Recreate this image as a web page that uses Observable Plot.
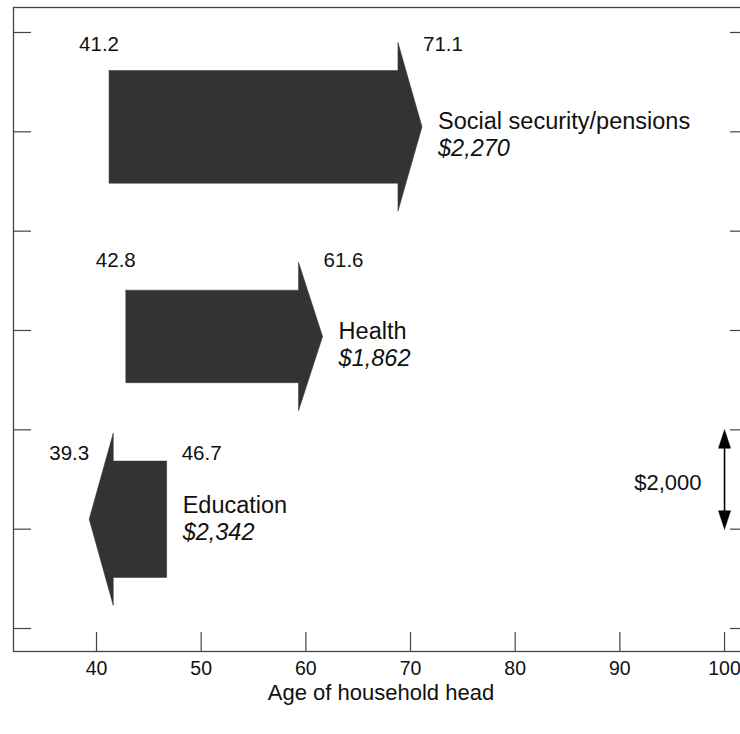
<!DOCTYPE html>
<html><head><meta charset="utf-8">
<script src="https://cdn.jsdelivr.net/npm/d3@7"></script>
<script src="https://cdn.jsdelivr.net/npm/@observablehq/plot@0.6"></script>
<style>
html,body{margin:0;padding:0;background:#fff;overflow:hidden;}
#chart svg{max-width:none !important;display:block;}
</style></head><body><div id="chart"></div>
<script>
// ---- data ----
const categories = ["Social security/pensions", "Health", "Education"];
const startAge = [41.2, 42.8, 46.7];
const endAge = [71.1, 61.6, 39.3];
const amount = [2270, 1862, 2342];
const amountLabels = ["$2,270", "$1,862", "$2,342"];
const xTicks = [40, 50, 60, 70, 80, 90, 100];
const yTicks = [0, 2000, 4000, 6000, 8000, 10000, 12000];
const scaleBarAmount = 2000;
const scaleBarLabel = "$2,000";
const xTitle = "Age of household head";

// ---- layout (not data) ----
const W = 750, H = 734, mL = 13, mR = 2, mT = 7, mB = 83;
const plotW = W - mL - mR, plotH = H - mT - mB;
const rowCenter = [10100, 5880, 2200];     // vertical placement of each arrow (y units)
const ageLabelDy = [-82, -76, -66];
const nameDy = [-5, -5, -14];
const valueDy = [22, 22, 13];
const HEAD_LEN = 2.3;      // years
const HEAD_EXTRA = 564;    // y units beyond body
const barAge = 100, barBase = 2000;
const BAR_HEAD = 370, BAR_HALF = 0.58;
const FONT = "'Liberation Sans', Arial, Helvetica, sans-serif";
const DARK = "#333333";

const arrows = categories.flatMap((c, i) => {
  const s = startAge[i], e = endAge[i], dir = Math.sign(e - s);
  const cy = rowCenter[i], h = amount[i] / 2, b = e - dir * HEAD_LEN;
  return [[s, cy + h], [b, cy + h], [b, cy + h + HEAD_EXTRA], [e, cy],
          [b, cy - h - HEAD_EXTRA], [b, cy - h], [s, cy - h], [s, cy + h]]
    .map(([x, y]) => ({cat: c, x, y}));
});

const barTop = barBase + scaleBarAmount, barBot = barBase;
const barHeads = [
  [[barAge, barTop], [barAge - BAR_HALF, barTop - BAR_HEAD], [barAge + BAR_HALF, barTop - BAR_HEAD], [barAge, barTop]].map(([x, y]) => ({id: "top", x, y})),
  [[barAge, barBot], [barAge - BAR_HALF, barBot + BAR_HEAD], [barAge + BAR_HALF, barBot + BAR_HEAD], [barAge, barBot]].map(([x, y]) => ({id: "bot", x, y}))
].flat();

const ageMarks = categories.flatMap((c, i) => {
  const dir = Math.sign(endAge[i] - startAge[i]);
  const y = rowCenter[i];
  return [
    {x: startAge[i], y, text: startAge[i].toFixed(1), anchor: dir > 0 ? "middle" : "start", dx: dir > 0 ? -10 : 15, dy: ageLabelDy[i]},
    {x: endAge[i], y, text: endAge[i].toFixed(1), anchor: dir > 0 ? "start" : "end", dx: dir > 0 ? 1 : 0, dy: ageLabelDy[i]}
  ];
}).map(d => Plot.text([d], {x: "x", y: "y", text: "text", textAnchor: d.anchor, dx: d.dx, dy: d.dy, fontSize: 20.5, fill: "#111"}));

const nameMarks = categories.flatMap((c, i) => {
  const x = Math.max(startAge[i], endAge[i]);
  return [
    Plot.text([{x, y: rowCenter[i], t: c}], {x: "x", y: "y", text: "t", textAnchor: "start", dx: 16, dy: nameDy[i], fontSize: 23.5, fill: "#111"}),
    Plot.text([{x, y: rowCenter[i], t: amountLabels[i]}], {x: "x", y: "y", text: "t", textAnchor: "start", dx: 16, dy: valueDy[i], fontSize: 23.5, fontStyle: "italic", fill: "#111"})
  ];
});

const chart = Plot.plot({
  width: W, height: H,
  marginLeft: mL, marginRight: mR, marginTop: mT, marginBottom: mB,
  style: {fontFamily: FONT, fontSize: "19.5px", color: "#111", background: "#fff", maxWidth: "none"},
  x: {domain: [32.07, 102.29], ticks: xTicks, tickSize: 0, tickPadding: 10, label: null},
  y: {domain: [-463, 12503], axis: null},
  marks: [
    Plot.line(arrows, {x: "x", y: "y", z: "cat", fill: DARK, stroke: DARK, strokeWidth: 0.5, curve: "linear"}),
    Plot.ruleX([barAge], {y1: barBot + BAR_HEAD * 0.8, y2: barTop - BAR_HEAD * 0.8, stroke: "#000", strokeWidth: 1.6}),
    Plot.line(barHeads, {x: "x", y: "y", z: "id", fill: "#000", stroke: "#000", strokeWidth: 0.5}),
    Plot.text([{x: barAge, y: barBase + scaleBarAmount / 2, t: scaleBarLabel}], {x: "x", y: "y", text: "t", textAnchor: "end", dx: -23, dy: 3, fontSize: 22, fill: "#111"}),
    ...ageMarks,
    ...nameMarks,
    Plot.tickX(xTicks, {x: d => d, insetTop: plotH - 19, stroke: "#444", strokeWidth: 1.2}),
    Plot.tickY(yTicks, {y: d => d, insetRight: plotW - 18, stroke: "#444", strokeWidth: 1.2}),
    Plot.tickY(yTicks, {y: d => d, insetLeft: plotW - 18, stroke: "#444", strokeWidth: 1.2}),
    Plot.frame({stroke: "#444", strokeWidth: 1.3}),
    Plot.text([xTitle], {frameAnchor: "bottom", lineAnchor: "middle", dy: 41, fontSize: 22, fill: "#111"})
  ]
});
document.getElementById("chart").appendChild(chart);
</script>
</body></html>
